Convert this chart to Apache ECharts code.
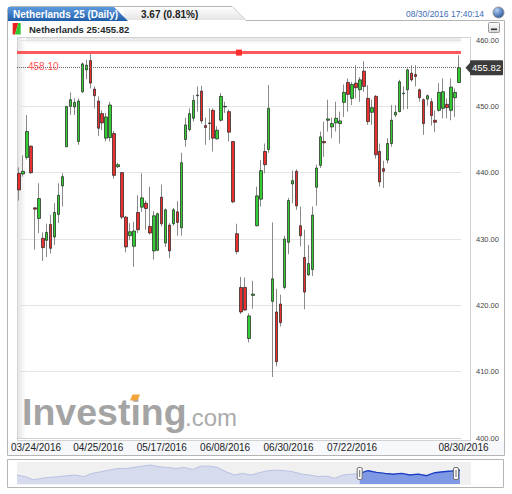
<!DOCTYPE html>
<html><head><meta charset="utf-8">
<script src="https://cdn.jsdelivr.net/npm/echarts@6/dist/echarts.min.js"></script>
<style>html,body{margin:0;padding:0;background:#fff}#c{width:512px;height:494px}</style>
</head><body><div id="c"></div>
<script>
// ---- data ----
const dates = [
'03/24/2016','03/29/2016','03/30/2016','03/31/2016',
'04/01/2016','04/04/2016','04/05/2016','04/06/2016','04/07/2016','04/08/2016','04/11/2016','04/12/2016','04/13/2016','04/14/2016','04/15/2016','04/18/2016','04/19/2016','04/20/2016','04/21/2016','04/22/2016','04/25/2016','04/26/2016','04/27/2016','04/28/2016','04/29/2016',
'05/02/2016','05/03/2016','05/04/2016','05/05/2016','05/06/2016','05/09/2016','05/10/2016','05/11/2016','05/12/2016','05/13/2016','05/16/2016','05/17/2016','05/18/2016','05/19/2016','05/20/2016','05/23/2016','05/24/2016','05/25/2016','05/26/2016','05/27/2016','05/30/2016','05/31/2016',
'06/01/2016','06/02/2016','06/03/2016','06/06/2016','06/07/2016','06/08/2016','06/09/2016','06/10/2016','06/13/2016','06/14/2016','06/15/2016','06/16/2016','06/17/2016','06/20/2016','06/21/2016','06/22/2016','06/23/2016','06/24/2016','06/27/2016','06/28/2016','06/29/2016','06/30/2016',
'07/01/2016','07/04/2016','07/05/2016','07/06/2016','07/07/2016','07/08/2016','07/11/2016','07/12/2016','07/13/2016','07/14/2016','07/15/2016','07/18/2016','07/19/2016','07/20/2016','07/21/2016','07/22/2016','07/25/2016','07/26/2016','07/27/2016','07/28/2016','07/29/2016',
'08/01/2016','08/02/2016','08/03/2016','08/04/2016','08/05/2016','08/08/2016','08/09/2016','08/10/2016','08/11/2016','08/12/2016','08/15/2016','08/16/2016','08/17/2016','08/18/2016','08/19/2016','08/22/2016','08/23/2016','08/24/2016','08/25/2016','08/26/2016','08/29/2016','08/30/2016'
];
const opens = [
439.9,439.8,442.3,444.0,434.7,433.1,430.1,429.8,432.2,430.3,
433.7,438.0,443.9,450.0,449.9,444.7,452.2,455.5,456.9,452.6,
450.8,448.9,445.2,445.3,445.9,440.9,440.0,433.3,430.5,428.9,
434.0,434.8,435.4,431.9,428.2,428.3,436.3,429.4,432.1,432.3,
434.1,431.7,445.0,446.5,448.2,451.6,452.3,447.1,447.5,449.4,
445.1,447.9,449.9,449.2,444.7,430.8,422.7,422.7,415.0,421.5,
432.0,436.0,443.2,443.5,420.6,419.0,420.2,422.7,429.5,438.3,
440.2,432.0,427.2,424.6,425.4,437.8,441.1,444.7,447.9,446.9,
447.5,447.4,450.6,453.6,451.2,453.5,452.5,455.3,451.2,449.1,
451.5,443.2,440.6,441.9,444.4,448.7,449.2,451.9,452.5,455.0,
454.8,452.5,451.0,451.1,450.7,447.9,449.4,449.7,450.3,449.4,
451.3,453.6];
const closes = [
437.4,440.2,446.2,440.0,434.5,436.1,428.7,431.0,428.6,434.0,
436.6,439.4,450.0,451.0,450.6,450.8,456.4,456.2,453.5,451.6,
446.7,447.5,448.4,450.2,439.6,441.2,433.3,428.8,431.1,431.2,
431.4,436.2,434.6,430.9,433.5,433.8,432.3,434.4,428.2,434.4,
432.5,441.5,447.2,448.9,450.9,451.7,447.8,446.8,447.4,445.2,
446.4,451.5,450.0,446.1,435.6,428.1,419.0,419.3,418.4,421.7,
436.5,440.3,441.2,449.7,424.0,411.5,417.4,430.0,435.8,438.8,
435.0,430.5,422.0,426.3,433.6,440.7,445.4,444.5,448.1,447.4,
448.2,447.8,452.1,451.8,453.3,452.8,454.0,453.0,447.7,449.8,
442.7,438.6,440.2,444.4,447.9,449.1,453.7,452.0,455.5,454.0,
454.5,451.3,447.4,451.6,448.6,447.6,452.1,452.2,449.8,452.9,
452.1,455.82];
const lows = [
435.8,439.4,442.0,439.8,428.4,430.9,426.7,427.3,427.8,429.1,
432.4,434.9,443.9,448.7,448.7,444.2,452.0,454.1,452.7,449.7,
445.5,446.4,444.7,444.7,439.1,440.7,433.0,428.0,429.8,425.8,
430.9,434.1,431.4,430.7,426.9,428.2,431.9,428.8,427.1,432.0,
430.5,430.5,443.9,446.2,447.7,449.2,447.4,444.2,444.9,443.2,
445.0,447.7,449.0,444.7,435.4,427.7,418.7,419.2,414.4,419.5,
431.9,434.9,439.9,443.0,409.2,410.8,416.8,422.4,427.7,435.4,
434.4,428.9,419.4,424.4,424.4,435.0,440.7,442.4,446.2,445.2,
446.2,444.4,448.4,449.2,450.2,451.2,450.7,452.2,447.2,447.2,
442.1,437.9,437.7,441.4,443.9,448.4,449.1,449.5,449.6,453.7,
453.0,450.7,445.7,450.1,447.1,446.1,449.2,448.2,448.2,447.9,
448.4,453.5];
const highs = [
440.8,442.6,448.7,444.1,434.8,438.4,431.0,432.3,433.6,435.4,
438.4,439.9,450.0,452.1,451.2,451.2,456.6,457.0,457.9,453.0,
451.5,449.4,449.0,450.7,446.3,441.5,440.1,433.5,432.4,432.6,
436.6,439.9,435.8,437.9,434.2,434.0,438.2,434.6,432.4,434.7,
435.7,443.0,448.3,449.7,451.7,453.0,453.1,448.3,449.7,449.7,
447.0,452.0,450.7,449.5,444.7,432.3,424.3,424.2,418.8,423.7,
437.9,441.9,444.4,453.2,432.5,422.5,421.6,430.5,436.2,440.3,
440.5,434.9,431.4,429.1,434.9,441.2,446.2,447.7,451.0,448.3,
450.7,449.2,453.3,454.2,453.7,456.2,454.4,456.8,453.2,451.0,
451.7,444.4,441.8,445.2,450.2,450.2,454.0,453.0,455.7,456.2,
456.2,452.7,451.2,451.8,451.2,449.4,453.5,454.2,451.2,454.2,
452.7,457.7];
const tickLabels = ['03/24/2016','04/25/2016','05/17/2016','06/08/2016','06/30/2016','07/22/2016','08/30/2016'];
const yMin = 400, yMax = 460, yStep = 10;
const alertLevel = 458.10;
const instrument = 'Netherlands 25';
const headerChange = '3.67 (0.81%)';
const headerTime = '08/30/2016 17:40:14';
// navigator (long history overview)
const navValues = [417,403,375,389,397,403,411,417,403,431,445,459,473,473,482,493,502,487,482,473,
482,465,493,493,482,445,417,431,417,437,454,459,454,445,425,417,403,408,389,417,
423,431,454,440,431,423,431,417,425,411,437,445,451,459];
const navSelStart = 41;

// ---- chart ----
const lastClose = closes[closes.length - 1];
const wickData = dates.map((d, i) => [opens[i], closes[i], lows[i], highs[i]]);
const bodyData = dates.map((d, i) => [opens[i], closes[i], Math.min(opens[i], closes[i]), Math.max(opens[i], closes[i])]);
const navSel = navValues.map((v, i) => i >= navSelStart ? v : null);
const FONT = '"Liberation Sans", Arial, sans-serif';

const chart = echarts.init(document.getElementById('c'), null, {renderer: 'svg'});

function vgrad(a, b) { return new echarts.graphic.LinearGradient(0, 0, 0, 1, [{offset: 0, color: a}, {offset: 1, color: b}]); }
function hgrad(a, b) { return new echarts.graphic.LinearGradient(0, 0, 1, 0, [{offset: 0, color: a}, {offset: 1, color: b}]); }

const staticGraphics = [
  {type: 'polygon', z: -10, shape: {points: [[7.5,455.5],[7.5,9],[10,6.5],[232,6.5],[246,20.5],[504.5,20.5],[504.5,455.5]]}, style: {fill: '#fff', stroke: '#b5b5b5', lineWidth: 1}},
  {type: 'polygon', z: -9, shape: {points: [[124,7],[232,7],[245,20],[124,20]]}, style: {fill: vgrad('#ffffff', '#e4e4e4')}},
  {type: 'polygon', z: -8, shape: {points: [[8,7],[114,7],[128,21],[8,21]]}, style: {fill: vgrad('#5d9be0', '#1e5ea8')}},
  {type: 'rect', z: -9, shape: {x: 17.5, y: 37.5, width: 453, height: 403}, style: {fill: '#fff', stroke: '#d2d2d2', lineWidth: 1}},
  {type: 'rect', z: -8, shape: {x: 18, y: 38, width: 443, height: 6}, style: {fill: vgrad('#e6e6e6', '#ffffff')}},
  {type: 'rect', z: -8, shape: {x: 18, y: 38, width: 8, height: 400}, style: {fill: hgrad('#e6e6e6', '#ffffff')}},
  {type: 'rect', z: -9, shape: {x: 8, y: 441, width: 496, height: 14}, style: {fill: '#f6f8fc'}},
  {type: 'rect', z: -9, shape: {x: 7.5, y: 459.5, width: 496, height: 28}, style: {fill: '#fff', stroke: '#b5b5b5', lineWidth: 1}},
  {type: 'rect', z: -8, shape: {x: 17, y: 462, width: 454, height: 23}, style: {fill: '#f0f0f0'}},
  // watermark
  {type: 'text', z: -5, x: 22, y: 412, style: {text: 'Investing', font: 'bold 37.5px ' + FONT, fill: '#a4a4a4', verticalAlign: 'middle'}},
  {type: 'text', z: -5, x: 185, y: 417, style: {text: '.com', font: '24px ' + FONT, fill: '#ababab', verticalAlign: 'middle'}},
  {type: 'polygon', z: -4, shape: {points: [[130,400.5],[132.5,394.5],[140,394.5],[137.5,400.5]]}, style: {fill: '#f0a63c'}},
  // header
  {type: 'text', z: 50, x: 13, y: 14.5, style: {text: instrument + ' (Daily)', font: 'bold 10px ' + FONT, fill: '#fff', verticalAlign: 'middle'}},
  {type: 'text', z: 50, x: 141, y: 14.5, style: {text: headerChange, font: 'bold 10px ' + FONT, fill: '#222', verticalAlign: 'middle'}},
  {type: 'text', z: 50, x: 406, y: 14, style: {text: headerTime, font: '8.5px ' + FONT, fill: '#3d6db5', verticalAlign: 'middle'}},
  {type: 'circle', z: 50, shape: {cx: 498.5, cy: 12.5, r: 5.5}, style: {fill: new echarts.graphic.RadialGradient(0.35, 0.3, 0.8, [{offset: 0, color: '#b4d0f4'}, {offset: 1, color: '#1c4b94'}]), stroke: '#9a9a9a', lineWidth: 1}},
  {type: 'polygon', z: 50, shape: {points: [[12.7,23],[18.3,23],[15,34.5],[12.7,34.5]]}, style: {fill: '#e8231f'}},
  {type: 'polygon', z: 50, shape: {points: [[18.3,23],[20.7,23],[20.7,34.5],[15,34.5]]}, style: {fill: '#33c933'}},
  {type: 'text', z: 50, x: 29, y: 29, style: {text: instrument + ':' + lastClose.toFixed(2), font: 'bold 9.5px ' + FONT, fill: '#1d2b2b', verticalAlign: 'middle'}},
  {type: 'rect', z: 50, shape: {x: 488.5, y: 22.5, width: 11, height: 10, r: 1}, style: {fill: vgrad('#ffffff', '#d5d5d5'), stroke: '#9a9a9a', lineWidth: 1}},
  {type: 'rect', z: 51, shape: {x: 491, y: 28.5, width: 6, height: 1.6}, style: {fill: '#333'}}
];

const option = {
  animation: false,
  backgroundColor: '#fff',
  grid: [
    {left: 17, top: 40, width: 444, height: 398, outerBoundsMode: 'none', containLabel: false},
    {left: 17, top: 463, width: 443, height: 21, outerBoundsMode: 'none', containLabel: false}
  ],
  xAxis: [
    {type: 'category', gridIndex: 0, data: dates, boundaryGap: true,
      axisLine: {show: true, lineStyle: {color: '#cfcfcf'}}, axisTick: {show: false}, splitLine: {show: false},
      axisLabel: {
        interval: (i, v) => tickLabels.indexOf(v) >= 0,
        margin: 4, fontSize: 10, lineHeight: 10, color: '#222', fontFamily: FONT, hideOverlap: false,
        formatter: (v, i) => i === 0 ? '{f|' + v + '}' : (i === dates.length - 1 ? '{l|' + v + '}' : v),
        rich: {
          f: {padding: [0, 0, 0, 34], fontSize: 10, lineHeight: 10, color: '#222', fontFamily: FONT},
          l: {padding: [0, 0, 0, 9], fontSize: 10, lineHeight: 10, color: '#222', fontFamily: FONT}
        }
      }},
    {type: 'category', gridIndex: 1, data: navValues.map((v, i) => i), boundaryGap: false, show: false}
  ],
  yAxis: [
    {type: 'value', gridIndex: 0, position: 'right', min: yMin, max: yMax, interval: yStep,
      axisLine: {show: false}, axisTick: {show: false},
      splitLine: {show: true, lineStyle: {color: '#e4e4e4', width: 1}},
      axisLabel: {margin: 15, fontSize: 7.5, lineHeight: 7, color: '#444', fontFamily: FONT, formatter: v => v.toFixed(2)}},
    {type: 'value', gridIndex: 1, min: 340, max: 520, show: false}
  ],
  series: [
    {type: 'candlestick', name: 'wicks', xAxisIndex: 0, yAxisIndex: 0, data: wickData, barWidth: 1, silent: true,
      itemStyle: {color: '#8a8a8a', color0: '#8a8a8a', borderColor: '#8a8a8a', borderColor0: '#8a8a8a', borderColorDoji: '#8a8a8a', borderWidth: 1}},
    {type: 'candlestick', name: instrument, xAxisIndex: 0, yAxisIndex: 0, data: bodyData, barWidth: 3, silent: true,
      itemStyle: {color: '#33cc33', color0: '#e8302f', borderColor: '#1e1e1e', borderColor0: '#1e1e1e', borderColorDoji: '#1e1e1e', borderWidth: 0.7},
      markLine: {silent: true, symbol: ['none', 'none'], animation: false,
        data: [
          {yAxis: alertLevel, lineStyle: {color: 'rgba(255,60,60,0.85)', width: 3, type: 'solid'},
            label: {show: true, position: 'insideStartBottom', distance: 9, padding: [0, 0, 0, 2], formatter: alertLevel.toFixed(2), color: '#ff5555', fontSize: 10, fontFamily: FONT}},
          {yAxis: lastClose, lineStyle: {color: '#666', width: 1, type: 'dotted'},
            label: {show: true, position: 'end', distance: 9, formatter: lastClose.toFixed(2), color: '#fff', backgroundColor: '#3c3c3c',
              padding: [3, 2, 2, 2], fontSize: 9.5, fontFamily: FONT, borderRadius: 1}}
        ]}},
    {type: 'line', xAxisIndex: 1, yAxisIndex: 1, data: navValues, symbol: 'none', silent: true,
      lineStyle: {color: '#b9c1e2', width: 1}, areaStyle: {color: '#d6dbee', opacity: 1, origin: 'start'}},
    {type: 'line', xAxisIndex: 1, yAxisIndex: 1, data: navSel, symbol: 'none', silent: true,
      lineStyle: {color: '#1b3fc4', width: 1.4}, areaStyle: {color: '#7f99e4', opacity: 1, origin: 'start'}}
  ],
  graphic: staticGraphics
};
chart.setOption(option);

// decorations anchored to data positions
const tagY = chart.convertToPixel({yAxisIndex: 0}, lastClose);
const alertY = chart.convertToPixel({yAxisIndex: 0}, alertLevel);
const x0 = chart.convertToPixel({xAxisIndex: 0}, 0);
const x1 = chart.convertToPixel({xAxisIndex: 0}, dates.length - 1);
const midX = (x0 + x1) / 2;
const hx0 = chart.convertToPixel({xAxisIndex: 1}, navSelStart);
const hx1 = chart.convertToPixel({xAxisIndex: 1}, navValues.length - 1) - 4;
const dyn = [
  {type: 'polygon', z: 60, shape: {points: [[465.5, tagY], [470.5, tagY - 5.5], [470.5, tagY + 5.5]]}, style: {fill: '#3c3c3c'}},
  {type: 'rect', z: 60, shape: {x: midX - 3, y: alertY - 3, width: 6, height: 6}, style: {fill: '#ff2d2d'}},
  {type: 'rect', z: 60, shape: {x: hx0 - 2.5, y: 467.5, width: 5, height: 12, r: 1.5}, style: {fill: '#fafafa', stroke: '#707070', lineWidth: 1}},
  {type: 'rect', z: 61, shape: {x: hx0 - 0.5, y: 470, width: 1, height: 7}, style: {fill: '#707070'}},
  {type: 'rect', z: 60, shape: {x: hx1 - 2.5, y: 467.5, width: 5, height: 12, r: 1.5}, style: {fill: '#fafafa', stroke: '#707070', lineWidth: 1}},
  {type: 'rect', z: 61, shape: {x: hx1 - 0.5, y: 470, width: 1, height: 7}, style: {fill: '#707070'}}
];
chart.setOption({graphic: staticGraphics.concat(dyn)});
</script>
</body></html>
